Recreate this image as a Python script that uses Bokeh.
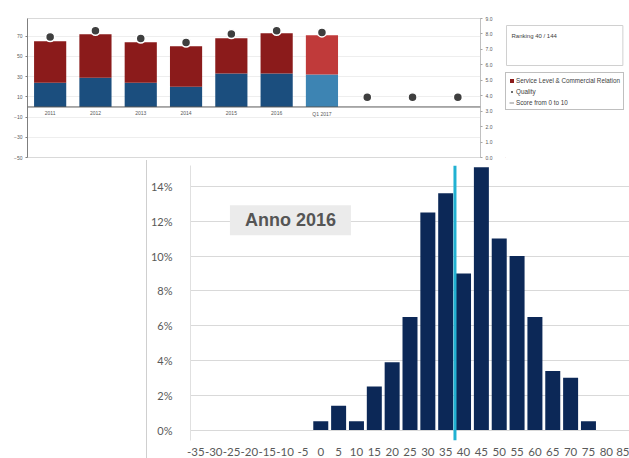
from bokeh.plotting import figure
from bokeh.models import (Range1d, LinearAxis, FixedTicker, PrintfTickFormatter, ColumnDataSource,
                          Legend, LegendItem, Label, Span, Div, FactorRange)
from bokeh.layouts import column, row
from bokeh.core.properties import value
from bokeh.embed import file_html
from bokeh.resources import INLINE

# ---------------- data: top chart ----------------
periods = ["2011", "2012", "2013", "2014", "2015", "2016", "Q1 2017", "Q2 2017", "Q3 2017", "Q4 2017"]
period_labels = ["2011", "2012", "2013", "2014", "2015", "2016", "Q1 2017"]
lower_part = [24, 29, 24, 20, 33, 33, 32]
service_commercial = [41, 43, 40, 40, 35, 40, 39]
quality = [7.8, 8.2, 7.7, 7.45, 8.0, 8.2, 8.1, 3.9, 3.9, 3.9]
left_ticks = [-50, -30, -10, 10, 30, 50, 70]
right_ticks = [0, 1, 2, 3, 4, 5, 6, 7, 8, 9]
ranking_text = "Ranking 40 / 144"
legend_labels = ["Service Level & Commercial Relation", "Quality", "Score from 0 to 10"]

# ---------------- data: histogram ----------------
bins = [0, 5, 10, 15, 20, 25, 30, 35, 40, 45, 50, 55, 60, 65, 70, 75]
share_pct = [0.5, 1.4, 0.5, 2.5, 3.9, 6.5, 12.5, 13.6, 9.0, 15.1, 11.0, 10.0, 6.5, 3.4, 3.0, 0.5]
x_ticks = list(range(-35, 90, 5))
y_ticks = [0, 2, 4, 6, 8, 10, 12, 14]
average_score = 37.6
title_text = "Anno 2016"

# ---------------- styles ----------------
lower_colors = ["#1b4e7e"] * 6 + ["#3d84b3"]
upper_colors = ["#8b1b1b"] * 6 + ["#c03a3a"]
FONT = "Liberation Sans"

# ================= top chart =================
pt = figure(width=505, height=160, x_range=FactorRange(*periods), y_range=Range1d(-50, 87.5),
            output_backend="svg", toolbar_location=None,
            min_border_left=27, min_border_right=25, min_border_top=18, min_border_bottom=3)
pt.extra_y_ranges = {"score": Range1d(0, 9)}
pt.xaxis.visible = False
pt.xgrid.grid_line_color = None
pt.ygrid.grid_line_color = "#eeeeee"
pt.ygrid.ticker = FixedTicker(ticks=left_ticks)
pt.outline_line_color = "#d9d9d9"

ya = pt.yaxis[0]
ya.ticker = FixedTicker(ticks=left_ticks)
ya.major_label_text_font_size = "5px"
ya.major_label_text_color = "#595959"
ya.major_label_text_font = FONT
ya.axis_line_color = "#7f7f7f"
ya.major_tick_line_color = "#7f7f7f"
ya.major_tick_out = 2
ya.major_tick_in = 0
ya.minor_tick_line_color = None
ya.major_label_standoff = 3

ra = LinearAxis(y_range_name="score", ticker=FixedTicker(ticks=right_ticks),
                formatter=PrintfTickFormatter(format="%.1f"))
ra.major_label_text_font_size = "5px"
ra.major_label_text_color = "#595959"
ra.major_label_text_font = FONT
ra.axis_line_color = "#a6a6a6"
ra.axis_line_dash = "1 1"
ra.major_tick_line_color = "#a6a6a6"
ra.major_tick_out = 2
ra.major_tick_in = 0
ra.minor_tick_line_color = None
ra.major_label_standoff = 3
pt.add_layout(ra, "right")

totals = [a + b for a, b in zip(lower_part, service_commercial)]
src = ColumnDataSource(dict(x=period_labels, low=lower_part, total=totals,
                            lc=lower_colors, uc=upper_colors))
pt.vbar(x="x", bottom=0, top="low", width=0.71, fill_color="lc", line_color=None, source=src)
pt.vbar(x="x", bottom="low", top="total", width=0.71, fill_color="uc", line_color=None, source=src)
pt.add_layout(Span(location=0, dimension="width", line_color="#595959", line_width=1))
pt.scatter(x=periods, y=quality, y_range_name="score", size=9, fill_color="#3f3f3f",
           line_color="white", line_width=1.5)
pt.text(x=period_labels, y=[0] * len(period_labels), text=period_labels, y_offset=4,
        text_font_size="5px", text_align="center", text_baseline="top", text_color="#595959",
        text_font=value(FONT))

# ================= side panel (ranking box + legend) =================
ps = figure(width=124, height=160, x_range=Range1d(0, 124), y_range=Range1d(0, 160),
            output_backend="svg", toolbar_location=None, x_axis_type=None, y_axis_type=None,
            min_border_left=0, min_border_right=0, min_border_top=0, min_border_bottom=0)
ps.outline_line_color = None
ps.xgrid.grid_line_color = None
ps.ygrid.grid_line_color = None
# legend sample renderers (placed outside the visible range; used only for legend glyphs)
s_bar = ps.vbar(x=[-500], top=[-500], bottom=[-501], width=1, fill_color="#8b1b1b", line_color=None)
s_dot = ps.scatter(x=[-500], y=[-500], size=5, fill_color="#3f3f3f", line_color=None)
s_line = ps.line(x=[-500, -499], y=[-500, -500], line_color="#8a8a8a", line_width=1)

leg = Legend(items=[LegendItem(label=legend_labels[0], renderers=[s_bar]),
                    LegendItem(label=legend_labels[1], renderers=[s_dot]),
                    LegendItem(label=legend_labels[2], renderers=[s_line])],
             location=(0, 47), orientation="vertical")
leg.label_text_font_size = "6.3px"
leg.label_text_font = FONT
leg.label_text_color = "#404040"
leg.glyph_width = 5
leg.glyph_height = 5
leg.label_height = 8
leg.label_standoff = 2
leg.spacing = 3
leg.padding = 3
leg.margin = 0
leg.border_line_color = "#808080"
leg.border_line_width = 1
leg.background_fill_color = "white"
leg.background_fill_alpha = 1
ps.add_layout(leg)

rank = Label(x=1, y=132, x_units="screen", y_units="screen", text=ranking_text,
             text_font_size="6px", text_font=FONT, text_color="#404040",
             text_align="left", text_baseline="top",
             border_line_color="#d0d0d0", background_fill_color="white",
             padding=dict(left=5, right=66, top=7, bottom=27))
ps.add_layout(rank)

# ================= histogram =================
ph = figure(width=482, height=298, x_range=Range1d(-36.5, 86.5), y_range=Range1d(-0.6, 15.2),
            output_backend="svg", toolbar_location=None,
            min_border_left=38, min_border_right=0, min_border_top=5, min_border_bottom=17)
ph.outline_line_color = None
ph.xgrid.grid_line_color = None
ph.ygrid.ticker = FixedTicker(ticks=y_ticks)
ph.ygrid.grid_line_color = "#d9d9d9"

ph.vbar(x=bins, top=share_pct, bottom=0, width=4.2, fill_color="#0c2857", line_color=None)
ph.segment(x0=[average_score], y0=[-0.6], x1=[average_score], y1=[15.2],
           line_color="#21b1d2", line_width=3)

xa = ph.xaxis[0]
xa.ticker = FixedTicker(ticks=x_ticks)
xa.major_label_overrides = {t: str(t) for t in x_ticks}
xa.axis_line_color = None
xa.major_tick_line_color = None
xa.minor_tick_line_color = None
xa.major_label_standoff = 1
xa.major_label_text_font = "Lato"
xa.major_label_text_font_size = "11.5px"
xa.major_label_text_color = "#595959"

yb = ph.yaxis[0]
yb.ticker = FixedTicker(ticks=y_ticks)
yb.formatter = PrintfTickFormatter(format="%d%%")
yb.axis_line_color = "#e0e0e0"
yb.major_tick_line_color = None
yb.minor_tick_line_color = None
yb.major_label_standoff = 12
yb.major_label_text_font = "Lato"
yb.major_label_text_font_size = "11px"
yb.major_label_text_color = "#595959"

ttl = Label(x=-8.5, y=12.05, text=title_text, text_font=FONT, text_font_style="bold",
            text_font_size="18px", text_color="#555555", text_align="center",
            text_baseline="middle", background_fill_color="#ebebeb",
            padding=dict(left=15, right=15, top=5, bottom=5))
ph.add_layout(ttl)

spacer = Div(width=147, height=298, margin=0,
             styles={"border-right": "1px solid #cfcfcf", "box-sizing": "border-box"})

layout = column(row(pt, ps, spacing=0), row(spacer, ph, spacing=0), spacing=0)
open("out.html", "w").write(file_html(layout, INLINE))
